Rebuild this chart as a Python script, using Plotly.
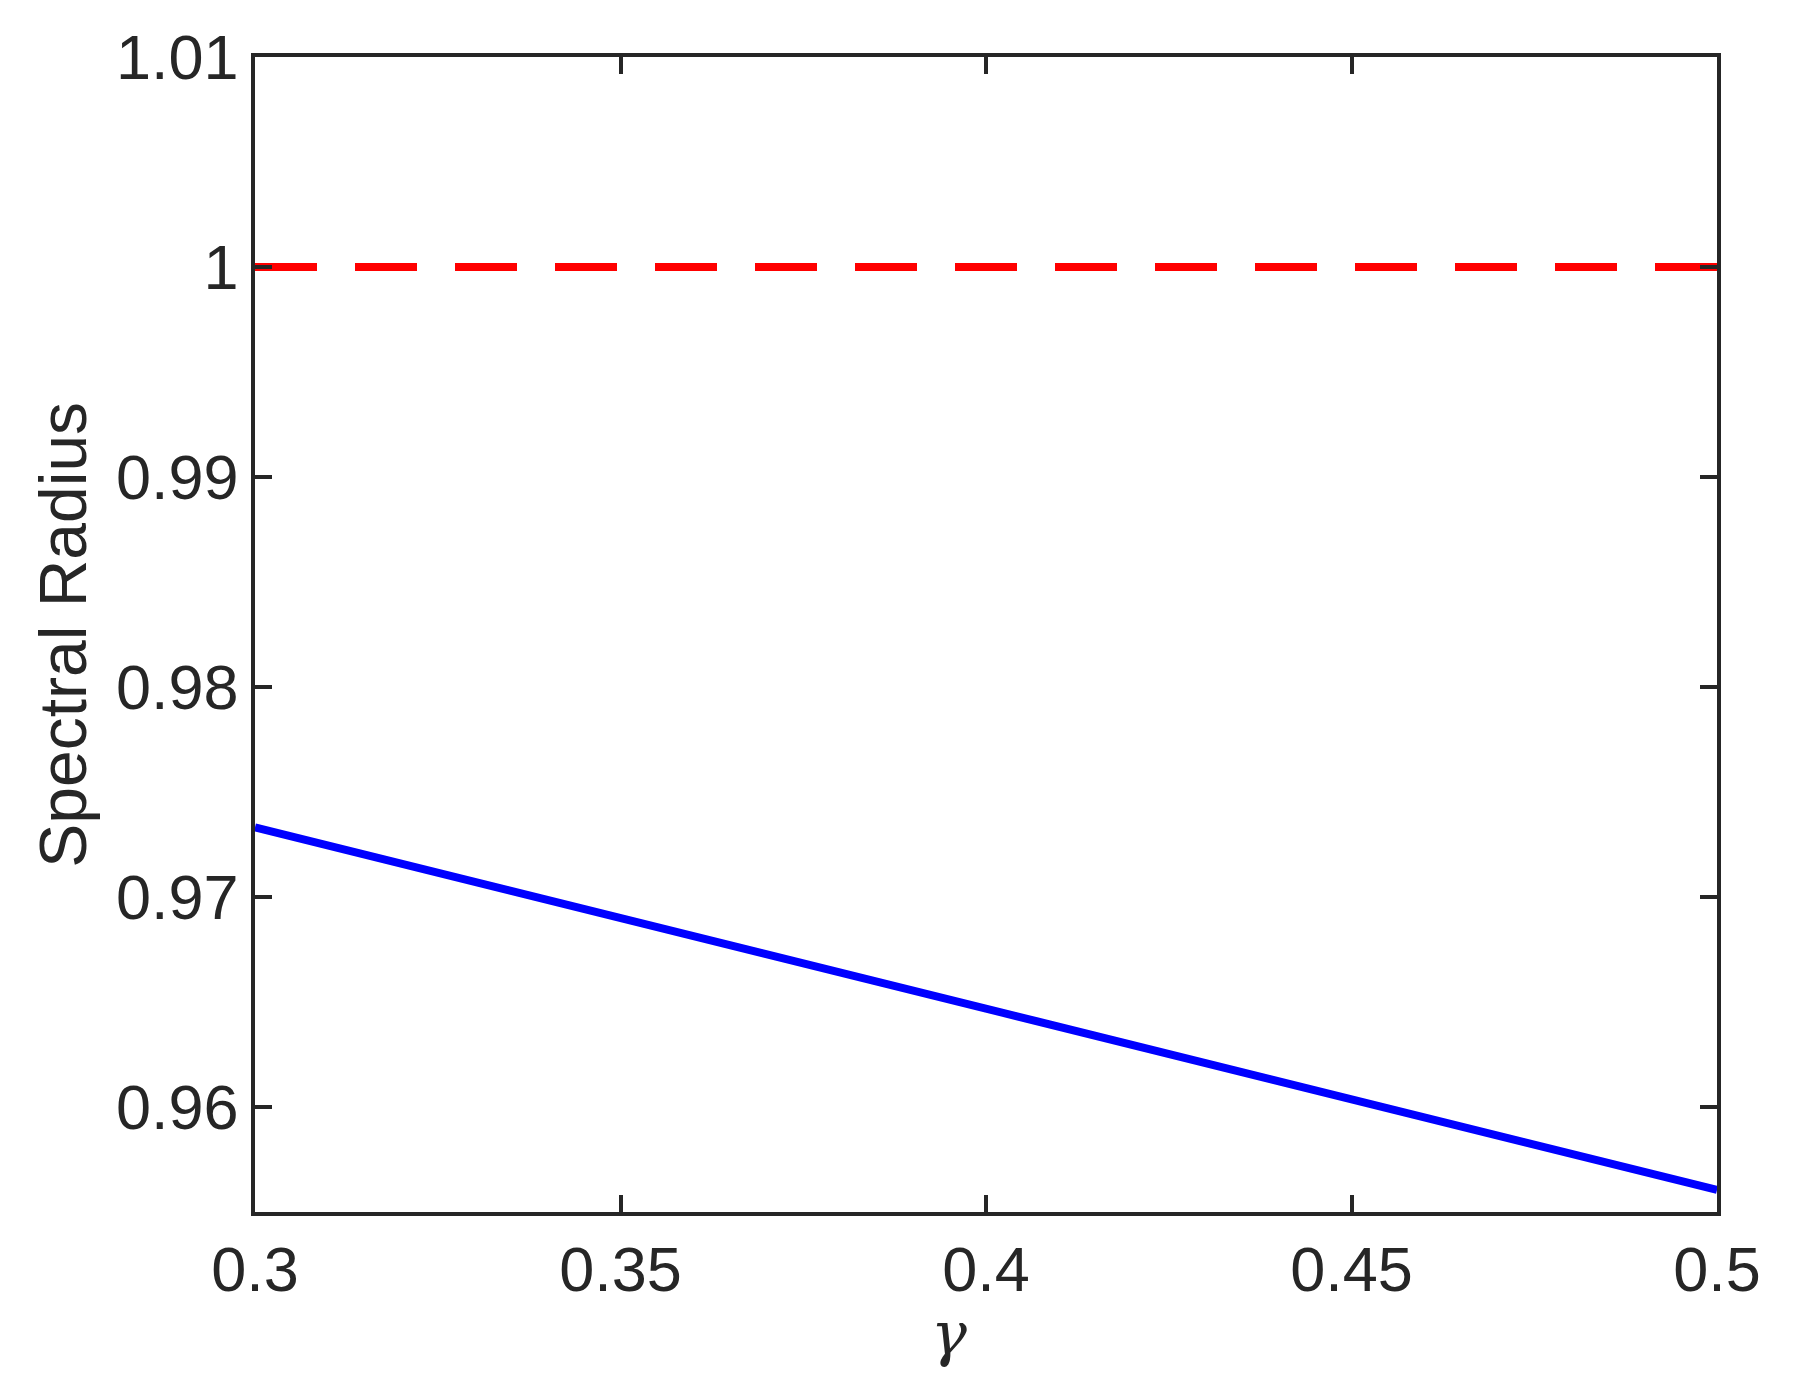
import plotly.graph_objects as go

# gamma values and the spectral radius
gamma = [0.30, 0.35, 0.40, 0.45, 0.50]
spectral_radius = [0.97332, 0.96900, 0.96466, 0.96034, 0.95605]

# stability threshold (dashed red line)
threshold_x = [0.30, 0.50]
threshold_y = [1.0, 1.0]

x_ticks = [0.30, 0.35, 0.40, 0.45, 0.50]
x_tick_text = ["0.3", "0.35", "0.4", "0.45", "0.5"]
y_ticks = [0.96, 0.97, 0.98, 0.99, 1.00, 1.01]
y_tick_text = ["0.96", "0.97", "0.98", "0.99", "1", "1.01"]

axis_color = "#262626"
font_family = "Liberation Sans, Arial, sans-serif"

fig = go.Figure()

fig.add_trace(go.Scatter(
    x=gamma, y=spectral_radius, mode="lines",
    line=dict(color="#0000FF", width=8),
    showlegend=False, hoverinfo="x+y",
))

fig.add_trace(go.Scatter(
    x=threshold_x, y=threshold_y, mode="lines",
    line=dict(color="#FF0000", width=8, dash="62px,38px"),
    showlegend=False, hoverinfo="x+y",
))

axis_common = dict(
    showline=True, linecolor=axis_color, linewidth=3.5,
    mirror="ticks", ticks="inside", ticklen=17, tickwidth=3.5,
    tickcolor=axis_color, showgrid=False, zeroline=False,
    tickfont=dict(family=font_family, size=63, color=axis_color),
)

fig.update_layout(
    width=1794, height=1395, autosize=False,
    plot_bgcolor="white", paper_bgcolor="white",
    margin=dict(l=247, r=85, t=49, b=191),
    xaxis=dict(
        range=[0.3, 0.5], tickvals=x_ticks, ticktext=x_tick_text,
        ticklabelstandoff=0, **axis_common,
    ),
    yaxis=dict(
        range=[0.955, 1.01], tickvals=y_ticks, ticktext=y_tick_text,
        ticklabelstandoff=0, **axis_common,
    ),
    annotations=[
        dict(
            text="Spectral Radius", xref="paper", yref="paper",
            x=-0.1318, y=0.5, xanchor="center", yanchor="middle",
            textangle=-90, showarrow=False,
            font=dict(family=font_family, size=66, color=axis_color),
        ),
        dict(
            text="<i>γ</i>", xref="paper", yref="paper",
            x=0.4747, y=-0.106,
            xanchor="center", yanchor="middle", showarrow=False,
            font=dict(family="DejaVu Serif, Liberation Serif, serif", size=60, color=axis_color),
        ),
    ],
)

fig.write_html("out.html")
